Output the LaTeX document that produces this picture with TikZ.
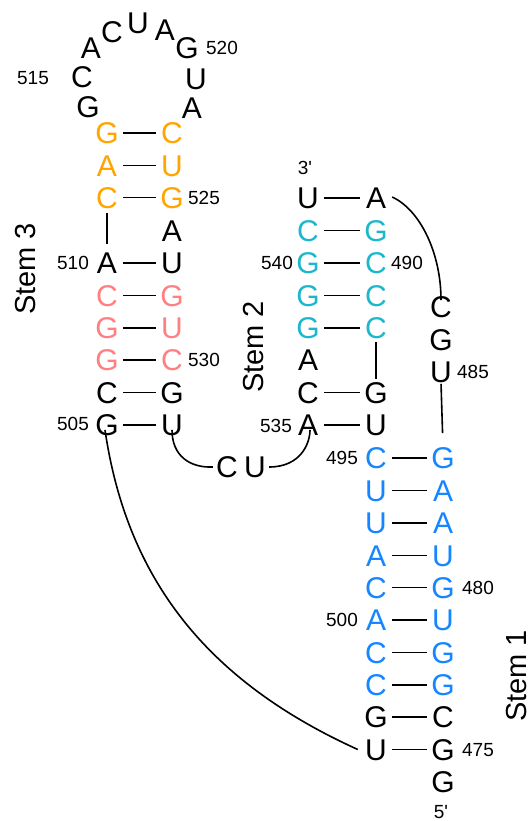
\documentclass[tikz,border=0pt]{standalone}
\usepackage{fontspec}
\setmainfont{Liberation Sans}[Ligatures=TeXOff]
\definecolor{cOr}{HTML}{FFA500}
\definecolor{cPk}{HTML}{FF8082}
\definecolor{cCy}{HTML}{1BB8CC}
\definecolor{cBl}{HTML}{1486FF}
\tikzset{
  nt/.style={font=\fontsize{30}{30}\selectfont, inner sep=0pt, minimum width=32pt, text height=21.5pt, text depth=0pt},
  num/.style={font=\fontsize{19}{19}\selectfont, inner sep=0pt, text height=13.6pt, text depth=0pt},
  stemlbl/.style={font=\fontsize{29}{29}\selectfont, rotate=90, inner sep=0pt, text height=21pt, text depth=0pt},
  bond/.style={line width=1.9pt},
  link/.style={line width=1.6pt}
}
\begin{document}
\begin{tikzpicture}[x=1pt,y=-1pt]
\fill[white] (0,0) rectangle (528,821);
\useasboundingbox (0,0) rectangle (528,821);
% ---- Stem 3 left column
\node[nt] (n505) at (107,425) {G};
\node[nt] (n506) at (107,392.5) {C};
\node[nt,cPk] (n507) at (107,360) {G};
\node[nt,cPk] (n508) at (107,328) {G};
\node[nt,cPk] (n509) at (107,295.5) {C};
\node[nt] (n510) at (107,263) {A};
\node[nt,cOr] (n511) at (107,197.5) {C};
\node[nt,cOr] (n512) at (107,165.5) {A};
\node[nt,cOr] (n513) at (107,133) {G};
% ---- loop
\node[nt] (n514) at (88,107) {G};
\node[nt] (n515) at (82,77) {C};
\node[nt] (n516) at (91,48) {A};
\node[nt] (n517) at (112,32) {C};
\node[nt] (n518) at (138,23) {U};
\node[nt] (n519) at (165,30) {A};
\node[nt] (n520) at (187,48) {G};
\node[nt] (n521) at (196,79) {U};
\node[nt] (n522) at (192,108) {A};
% ---- Stem 3 right column
\node[nt,cOr] (n523) at (172,133) {C};
\node[nt,cOr] (n524) at (172,165.5) {U};
\node[nt,cOr] (n525) at (172,197.5) {G};
\node[nt] (n526) at (172,230.5) {A};
\node[nt] (n527) at (172,263) {U};
\node[nt,cPk] (n528) at (172,295.5) {G};
\node[nt,cPk] (n529) at (172,328) {U};
\node[nt,cPk] (n530) at (172,360) {C};
\node[nt] (n531) at (172,392.5) {G};
\node[nt] (n532) at (172,425) {U};
% ---- linker
\node[nt,minimum width=0pt] (n533) at (227,467) {C};
\node[nt,minimum width=0pt] (n534) at (255,467) {U};
% ---- Stem 2 left column
\node[nt] (n535) at (308,425) {A};
\node[nt] (n536) at (308,392.5) {C};
\node[nt] (n537) at (308,360) {A};
\node[nt,cCy] (n538) at (308,328) {G};
\node[nt,cCy] (n539) at (308,295.5) {G};
\node[nt,cCy] (n540) at (308,263) {G};
\node[nt,cCy] (n541) at (308,230.5) {C};
\node[nt] (n542) at (308,198) {U};
% ---- Stem 2 right column
\node[nt] (n488) at (376,198) {A};
\node[nt,cCy] (n489) at (376,230.5) {G};
\node[nt,cCy] (n490) at (376,263) {C};
\node[nt,cCy] (n491) at (376,295.5) {C};
\node[nt,cCy] (n492) at (376,328) {C};
\node[nt] (n493) at (376,392.5) {G};
\node[nt] (n494) at (376,425) {U};
% ---- right strand
\node[nt] (n487) at (441,307) {C};
\node[nt] (n486) at (441,339.5) {G};
\node[nt] (n485) at (441,372) {U};
% ---- Stem 1 left column
\node[nt,cBl] (n495) at (376,458) {C};
\node[nt,cBl] (n496) at (376,490.5) {U};
\node[nt,cBl] (n497) at (376,523) {U};
\node[nt,cBl] (n498) at (376,555.5) {A};
\node[nt,cBl] (n499) at (376,587.5) {C};
\node[nt,cBl] (n500) at (376,620) {A};
\node[nt,cBl] (n501) at (376,652.5) {C};
\node[nt,cBl] (n502) at (376,685) {C};
\node[nt] (n503) at (376,717) {G};
\node[nt] (n504) at (376,749.5) {U};
% ---- Stem 1 right column
\node[nt,cBl] (n484) at (443,458) {G};
\node[nt,cBl] (n483) at (443,490.5) {A};
\node[nt,cBl] (n482) at (443,523) {A};
\node[nt,cBl] (n481) at (443,555.5) {U};
\node[nt,cBl] (n480) at (443,587.5) {G};
\node[nt,cBl] (n479) at (443,620) {U};
\node[nt,cBl] (n478) at (443,652.5) {G};
\node[nt,cBl] (n477) at (443,685) {G};
\node[nt] (n476) at (443,717) {C};
\node[nt] (n475) at (443,749.5) {G};
\node[nt] (n474) at (443,782) {G};
% ---- numbers
\node[num] (l515) at (33,78) {515};
\node[num] (l520) at (222,48) {520};
\node[num] (l525) at (204,197.5) {525};
\node[num] (l510) at (73,263) {510};
\node[num] (l530) at (204,360) {530};
\node[num] (l505) at (73,424) {505};
\node[num] (l3p) at (305,168) {3'};
\node[num] (l540) at (277,263) {540};
\node[num] (l490) at (407,263) {490};
\node[num] (l485) at (473,372) {485};
\node[num] (l535) at (276,426) {535};
\node[num] (l495) at (342,458) {495};
\node[num] (l480) at (478,587.5) {480};
\node[num] (l500) at (342,620) {500};
\node[num] (l475) at (478,749.5) {475};
\node[num] (l5p) at (441,812) {5'};
% ---- stem labels
\node[stemlbl] (s3) at (25,269) {Stem 3};
\node[stemlbl] (s2) at (253,347) {Stem 2};
\node[stemlbl] (s1) at (516,676) {Stem 1};
% ---- base pair bonds
\foreach \a/\b in {505/532,506/531,507/530,508/529,509/528,510/527,511/525,512/524,513/523,
  535/494,536/493,538/492,539/491,540/490,541/489,542/488,
  495/484,496/483,497/482,498/481,499/480,500/479,501/478,502/477,503/476,504/475}
  \draw[bond] (n\a.east) -- (n\b.west);
% ---- backbone links
\draw[link,shorten <=5pt,shorten >=8pt] (n511.south) -- (n510.north);
\draw[link,shorten <=3pt,shorten >=3pt] (n492.south) -- (n493.north);
\draw[link,shorten <=1pt,shorten >=14pt] (n485.south) -- (n484.north);
\draw[link] ([yshift=1pt]n488.east) .. controls +(28,13) and +(0,-47) .. ([yshift=-4pt]n487.north);
\draw[link] ([shift={(-2pt,6pt)}]n505.south) .. controls +(22,150) and +(-150,-68) .. ([xshift=-2pt]n504.west);
\draw[link] ([yshift=6pt]n532.south) .. controls +(0,26) and +(-23,1) .. ([xshift=-3pt]n533.west);
\draw[link] ([xshift=3pt]n534.east) .. controls +(32,0) and +(0,13) .. ([shift={(2pt,6pt)}]n535.south);
\end{tikzpicture}
\end{document}
